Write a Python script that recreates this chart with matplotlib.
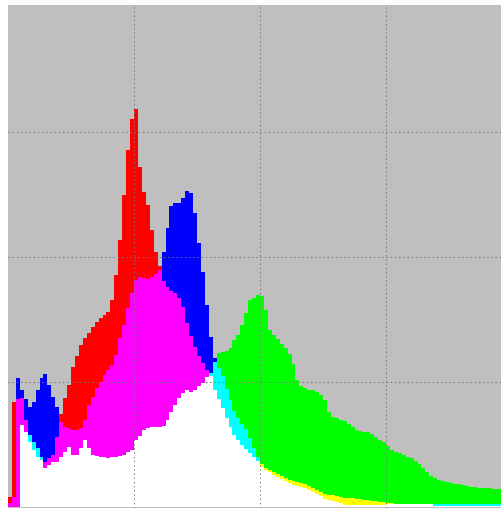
import numpy as np
import matplotlib
matplotlib.use('Agg')
import matplotlib.pyplot as plt

# RGB histogram, 2 levels per bin, counts on an arbitrary scale (0-1000)
red = [20, 209, 215, 217, 173, 129, 113, 99, 93, 89,
       97, 103, 140, 185, 217, 243, 279, 301, 323, 337,
       347, 359, 369, 377, 383, 389, 413, 463, 533, 623,
       713, 775, 795, 680, 629, 603, 553, 509, 481, 451,
       439, 431, 427, 417, 399, 367, 341, 319, 301, 287,
       273, 262, 233, 215, 197, 177, 159, 143, 133, 123,
       115, 107, 99, 91, 85, 77, 73, 69, 65, 61,
       57, 53, 51, 49, 47, 45, 41, 37, 33, 29,
       25, 23, 23, 22, 20, 18, 18, 17, 16, 15,
       14, 13, 12, 11, 10, 9, 8, 7, 6, 6,
       6, 6, 6, 6, 6, 6, 6, 6, 1, 1,
       1, 1, 1, 1, 1, 1, 1, 1, 1, 1,
       1, 1, 1, 1, 1, 1]
green = [0, 0, 0, 163, 149, 143, 129, 117, 99, 77,
         83, 89, 90, 100, 109, 119, 103, 103, 117, 133,
         117, 103, 101, 99, 99, 97, 99, 99, 101, 103,
         109, 113, 133, 141, 153, 157, 159, 159, 159, 161,
         173, 189, 203, 217, 227, 233, 229, 233, 241, 247,
         259, 268, 290, 307, 309, 311, 317, 333, 343, 363,
         387, 413, 417, 423, 421, 393, 353, 343, 335, 325,
         317, 305, 285, 253, 241, 237, 233, 233, 229, 223,
         213, 189, 179, 177, 173, 171, 165, 159, 153, 151,
         149, 149, 145, 139, 133, 129, 121, 113, 109, 107,
         103, 99, 97, 91, 85, 77, 69, 61, 57, 53,
         51, 49, 47, 45, 45, 43, 41, 39, 39, 37,
         37, 37, 37, 35, 35, 35]
blue = [8, 20, 257, 233, 215, 199, 209, 233, 257, 265,
        243, 219, 200, 170, 159, 157, 153, 153, 157, 173,
        203, 219, 237, 249, 263, 273, 283, 303, 337, 363,
        397, 427, 453, 459, 457, 455, 459, 465, 473, 509,
        557, 601, 607, 607, 617, 631, 627, 587, 527, 469,
        403, 339, 297, 277, 261, 235, 213, 191, 177, 165,
        155, 137, 117, 99, 80, 73, 69, 63, 59, 55,
        51, 47, 43, 41, 39, 37, 33, 29, 25, 21,
        15, 13, 11, 9, 7, 4, 4, 4, 4, 4,
        4, 4, 4, 4, 4, 4, 6, 6, 6, 6,
        6, 6, 6, 6, 6, 6, 6, 6, 6, 6,
        6, 6, 6, 6, 6, 6, 6, 6, 6, 6,
        6, 6, 6, 6, 6, 6]

bin_width = 2
levels = np.arange(len(red)) * bin_width

# additive colours: one channel, two channels overlapping, all three
single_colors = ['#ff0000', '#00ff00', '#0000ff']
pair_colors = {(0, 1): '#ffff00', (0, 2): '#ff00ff', (1, 2): '#00ffff'}

chans = np.array([red, green, blue], dtype=float)
order = np.argsort(chans, axis=0, kind='stable')

low_v, mid_v, high_v = [], [], []
pair_c, top_c = [], []
for i in range(chans.shape[1]):
    lo, mi, hi = order[:, i]
    low_v.append(chans[lo, i])
    mid_v.append(chans[mi, i])
    high_v.append(chans[hi, i])
    pair_c.append(pair_colors[tuple(sorted((mi, hi)))])
    top_c.append(single_colors[hi])
low_v = np.array(low_v)
mid_v = np.array(mid_v)
high_v = np.array(high_v)

fig = plt.figure(figsize=(5.01, 5.08), dpi=100)
ax = fig.add_axes([8 / 501, 0, 493 / 501, 503.5 / 508])
ax.set_facecolor('#bfbfbf')

ax.bar(levels, low_v, width=bin_width, align='edge', color='white',
       linewidth=0, antialiased=False)
ax.bar(levels, mid_v - low_v, bottom=low_v, width=bin_width, align='edge',
       color=pair_c, linewidth=0, antialiased=False)
ax.bar(levels, high_v - mid_v, bottom=mid_v, width=bin_width, align='edge',
       color=top_c, linewidth=0, antialiased=False)

ax.set_xlim(0, 250.4)
ax.set_ylim(-3, 1004)
ax.set_xticks([64, 128, 192])
ax.set_yticks([250, 500, 750])
ax.grid(True, color='#787878', linestyle=(0, (1.4, 2.8)), linewidth=0.72)
ax.set_axisbelow(False)
ax.tick_params(length=0, labelbottom=False, labelleft=False)
for s in ax.spines.values():
    s.set_visible(False)

fig.savefig('out.png', dpi=100)
